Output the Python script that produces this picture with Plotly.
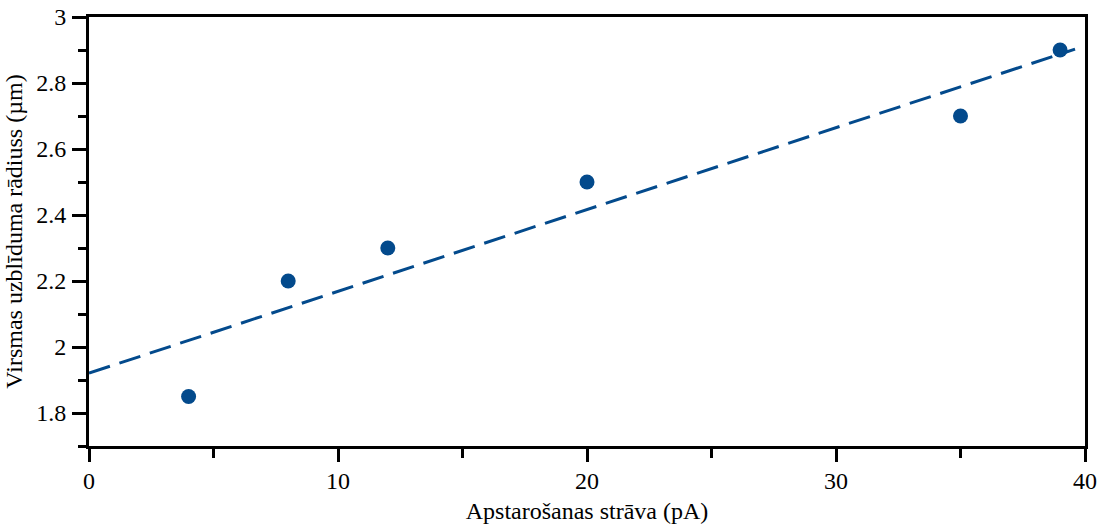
import numpy as np
import plotly.graph_objects as go

# Measured surface bulge radius vs. irradiation current
current_pA = [4, 8, 12, 20, 35, 39]
radius_um = [1.85, 2.2, 2.3, 2.5, 2.7, 2.9]

x_ticks = [0, 10, 20, 30, 40]
y_ticks = [1.8, 2.0, 2.2, 2.4, 2.6, 2.8, 3.0]
y_tick_text = ["1.8", "2", "2.2", "2.4", "2.6", "2.8", "3"]

blue = "#034a8c"

# Least-squares linear trend through the measurements
slope, intercept = np.polyfit(current_pA, radius_um, 1)
fit_x = np.array([0.0, 39.6])
fit_y = intercept + slope * fit_x

fig = go.Figure()
fig.add_trace(go.Scatter(
    x=fit_x, y=fit_y, mode="lines",
    line=dict(color=blue, width=3, dash="22px,10px"),
    showlegend=False,
))
fig.add_trace(go.Scatter(
    x=current_pA, y=radius_um, mode="markers",
    marker=dict(color=blue, size=15),
    showlegend=False,
))

serif = "Times New Roman, Liberation Serif, DejaVu Serif, serif"
txt = dict(family=serif, size=24, color="#000")

fig.update_layout(
    width=1107, height=526,
    margin=dict(l=89, r=22, t=17, b=80, autoexpand=False),
    paper_bgcolor="white", plot_bgcolor="white",
    font=txt,
)
fig.update_xaxes(
    range=[0, 40], tickvals=x_ticks, automargin=False,
    tickfont=txt, ticklabelstandoff=-2,
    showgrid=False, zeroline=False,
    showline=True, linecolor="black", linewidth=3, mirror=True,
    ticks="outside", ticklen=13, tickwidth=3, tickcolor="black",
    minor=dict(dtick=5, ticks="outside", ticklen=9, tickwidth=3, tickcolor="black"),
    title=dict(text="Apstarošanas strāva (pA)", standoff=10, font=txt),
)
fig.update_yaxes(
    range=[1.7, 3.0], tickvals=y_ticks, ticktext=y_tick_text, automargin=False,
    tickfont=txt, ticklabelstandoff=1,
    showgrid=False, zeroline=False,
    showline=True, linecolor="black", linewidth=3, mirror=True,
    ticks="outside", ticklen=14, tickwidth=3, tickcolor="black",
    minor=dict(tickvals=[1.7, 1.9, 2.1, 2.3, 2.5, 2.7, 2.9], ticks="outside",
               ticklen=8, tickwidth=3, tickcolor="black"),
    title=dict(text="Virsmas uzblīduma rādiuss (µm)", standoff=7, font=txt),
)

fig.write_html("out.html")
